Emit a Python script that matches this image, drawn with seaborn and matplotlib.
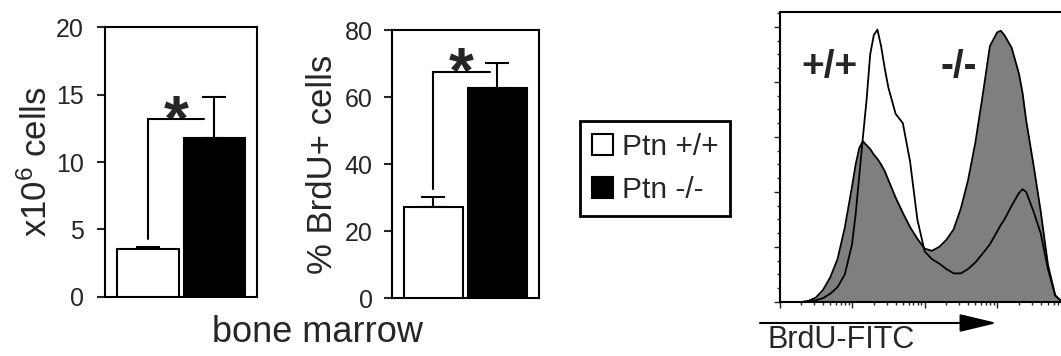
import numpy as np
import pandas as pd
import matplotlib
matplotlib.use("Agg")
import matplotlib.pyplot as plt
import seaborn as sns
from matplotlib.patches import Patch, FancyArrowPatch
from matplotlib.ticker import MultipleLocator, LogLocator, NullFormatter

# ---- data -------------------------------------------------------------
genotypes = ["Ptn +/+", "Ptn -/-"]
bar_colors = ["white", "black"]

# bone marrow cellularity (x10^6 cells): mean and SEM
cells_mean = [3.55, 11.8]
cells_sem = [0.17, 3.0]

# proportion of BrdU+ bone marrow cells (%): mean and SEM
brdu_mean = [27.1, 62.6]
brdu_sem = [3.2, 7.5]

# BrdU-FITC flow histograms (log10 fluorescence vs. relative event count)
fitc_log10 = [0.0, 0.3, 0.4, 0.5, 0.6, 0.7, 0.8, 0.9, 1.0, 1.05, 1.1, 1.15,
              1.2, 1.25, 1.3, 1.35, 1.4, 1.45, 1.5, 1.6, 1.7, 1.8, 1.9, 2.0,
              2.1, 2.2, 2.3, 2.4, 2.5, 2.6, 2.7, 2.8, 2.9, 3.0, 3.05, 3.1,
              3.2, 3.3, 3.35, 3.4, 3.5, 3.6, 3.7, 3.8, 3.88]
counts_ko = [0.0, 0.0, 0.02, 0.08, 0.22, 0.45, 0.78, 1.35, 2.1, 2.5, 2.8, 2.92,
             2.85, 2.78, 2.68, 2.6, 2.5, 2.38, 2.22, 1.9, 1.62, 1.36, 1.15, 0.97,
             0.93, 1.0, 1.13, 1.32, 1.7, 2.22, 2.9, 3.75, 4.65, 4.9, 4.93, 4.85,
             4.62, 4.15, 3.8, 3.3, 2.5, 1.65, 0.68, 0.12, 0.02]
counts_wt = [0.0, 0.0, 0.01, 0.03, 0.07, 0.15, 0.27, 0.5, 1.05, 1.6, 2.3, 3.0,
             3.67, 4.5, 4.85, 4.95, 4.65, 4.25, 3.9, 3.42, 3.25, 2.55, 1.5, 0.92,
             0.78, 0.7, 0.6, 0.52, 0.52, 0.6, 0.72, 0.88, 1.05, 1.28, 1.4, 1.5,
             1.75, 1.98, 2.05, 2.0, 1.65, 1.25, 0.6, 0.12, 0.02]

# ---- style ------------------------------------------------------------
sns.set_style("ticks")
plt.rcParams["font.family"] = ["Liberation Sans", "DejaVu Sans"]
plt.rcParams["mathtext.fontset"] = "custom"
plt.rcParams["mathtext.rm"] = "Liberation Sans"
plt.rcParams["mathtext.it"] = "Liberation Sans:italic"
plt.rcParams["mathtext.bf"] = "Liberation Sans:bold"

W, H = 1061, 356
fig = plt.figure(figsize=(W / 100, H / 100), dpi=100)


def px_axes(left, top, right, bottom):
    return fig.add_axes([left / W, 1 - bottom / H, (right - left) / W, (bottom - top) / H])


def bar_panel(ax, means, sems, ymax, step, ylabel, bracket_x1, bracket_y, star_y,
              label_x, tick_pad):
    df = pd.DataFrame({"genotype": genotypes, "value": means})
    sns.barplot(data=df, x="genotype", y="value", hue="genotype", palette=bar_colors,
                edgecolor="black", linewidth=1.5, width=0.925, saturation=1,
                legend=False, ax=ax, zorder=3)
    ax.errorbar([0, 1], means, yerr=[[0, 0], sems], fmt="none", ecolor="black",
                elinewidth=1.5, capsize=8.5, capthick=1.5, zorder=2)
    # significance bracket
    lo = means[0] + sems[0]
    ax.plot([0, 0, bracket_x1], [lo + ymax * 0.028, bracket_y, bracket_y],
            color="black", lw=1.5, solid_joinstyle="miter", zorder=4)
    ax.text(bracket_x1 / 2, star_y, "*", ha="center", va="baseline",
            fontsize=46, fontweight="bold")
    ax.set_xlim(-0.648, 1.64)
    ax.set_ylim(0, ymax)
    ax.yaxis.set_major_locator(MultipleLocator(step))
    ax.set_xticks([])
    ax.set_xlabel("")
    ax.set_ylabel(ylabel, fontsize=25)
    ax.yaxis.set_label_coords(label_x, 0.5)
    ax.tick_params(axis="y", direction="out", length=5.8, width=1.5,
                   labelsize=18, pad=tick_pad)
    for s in ax.spines.values():
        s.set_visible(True)
        s.set_linewidth(1.5)
        s.set_color("black")


ax1 = px_axes(105, 27.3, 256.7, 296.7)
bar_panel(ax1, cells_mean, cells_sem, 20, 5, "x10$^{6}$ cells",
          bracket_x1=0.84, bracket_y=13.2, star_y=11.6, label_x=-0.335, tick_pad=9.5)

ax2 = px_axes(391.7, 30, 538.5, 298.3)
bar_panel(ax2, brdu_mean, brdu_sem, 80, 20, "% BrdU+ cells",
          bracket_x1=0.88, bracket_y=67.6, star_y=61.2, label_x=-0.36, tick_pad=8.0)

fig.text(317.5 / W, 14.3 / H, "bone marrow", ha="center", va="baseline", fontsize=26)

# legend shared by both bar panels
handles = [Patch(facecolor="white", edgecolor="black", linewidth=1.5, label=genotypes[0]),
           Patch(facecolor="black", edgecolor="black", linewidth=1.5, label=genotypes[1])]
leg = fig.legend(handles=handles, loc="upper left", bbox_to_anchor=(580 / W, 1 - 121 / H),
                 frameon=True, fancybox=False, edgecolor="black", framealpha=1,
                 fontsize=21.5, handlelength=0.7, handleheight=0.7, handletextpad=0.3,
                 labelspacing=0.5, borderpad=0.4, borderaxespad=0)
leg.get_frame().set_linewidth(2)

# ---- flow cytometry histogram -----------------------------------------
ax3 = px_axes(779.5, 12, W, 302)
fitc = 10 ** np.asarray(fitc_log10)
hist = pd.DataFrame({"fitc": fitc, "ko": counts_ko, "wt": counts_wt})
ax3.fill_between(hist["fitc"], 0, hist["ko"], color="#7f7f7f", lw=0, zorder=1)
sns.lineplot(data=hist, x="fitc", y="ko", color="black", lw=1.3, sort=False, ax=ax3, zorder=2)
sns.lineplot(data=hist, x="fitc", y="wt", color="black", lw=1.3, sort=False, ax=ax3, zorder=3)
ax3.set_xscale("log")
ax3.set_xlim(1, 10 ** 3.88)
ax3.set_ylim(0, 5.27)
ax3.xaxis.set_major_locator(LogLocator(base=10))
ax3.xaxis.set_minor_locator(LogLocator(base=10, subs=np.arange(2, 10)))
ax3.xaxis.set_major_formatter(NullFormatter())
ax3.xaxis.set_minor_formatter(NullFormatter())
ax3.yaxis.set_major_locator(MultipleLocator(1))
ax3.yaxis.set_minor_locator(MultipleLocator(0.25))
ax3.yaxis.set_major_formatter(NullFormatter())
ax3.set_xlabel("")
ax3.set_ylabel("")
ax3.tick_params(which="major", direction="out", length=4.5, width=1)
ax3.tick_params(which="minor", direction="out", length=2.5, width=1)
ax3.spines["right"].set_visible(False)
for side in ("left", "top", "bottom"):
    ax3.spines[side].set_visible(True)
    ax3.spines[side].set_linewidth(1.5)
    ax3.spines[side].set_color("black")

ax3.text(0.179, 0.812, "+/+", transform=ax3.transAxes, ha="center", va="center",
         fontsize=28, fontweight="bold")
ax3.text(0.636, 0.812, "-/-", transform=ax3.transAxes, ha="center", va="center",
         fontsize=28, fontweight="bold")

arrow = FancyArrowPatch(posA=(760 / W, 1 - 323 / H), posB=(997 / W, 1 - 323 / H),
                        transform=fig.transFigure, arrowstyle="-|>,head_length=2.3,head_width=0.55",
                        mutation_scale=10, lw=1.5, color="black", shrinkA=0, shrinkB=0)
fig.add_artist(arrow)
fig.text(768 / W, 1 / H, "BrdU-FITC", ha="left", va="bottom", fontsize=22)

fig.savefig("out.png", dpi=100)
